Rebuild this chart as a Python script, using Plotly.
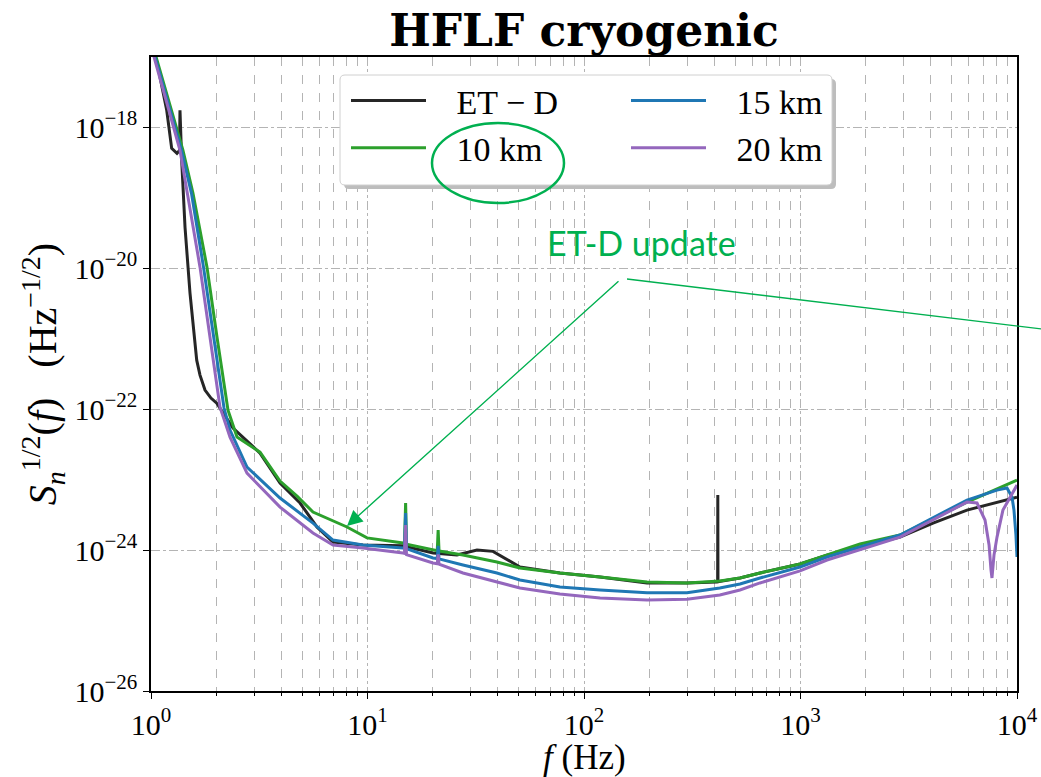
import plotly.graph_objects as go

# ---------------------------------------------------------------
# Amplitude spectral densities S_n^{1/2}(f)  [Hz^-1/2]
# ---------------------------------------------------------------
etd_f = [1.0, 1.066, 1.182, 1.246, 1.318, 1.354, 1.361, 1.386, 1.436, 1.514,
         1.626, 1.684, 1.776, 1.892, 2.012, 2.15, 2.392, 3.188, 3.944, 4.88,
         5.84, 6.93, 9.53, 14.58, 20.07, 25.9, 32.05, 38.0, 50.6, 77.4,
         118.6, 195.5, 299.0, 411.0, 414.3, 415.0, 415.7, 525.5, 650.0, 995.0,
         1326.0, 2882.0, 4093.0, 5875.0, 10000.0]
etd_asd = [1.61e-17, 8.38e-18, 1.75e-18, 5.05e-19, 4.29e-19, 4.73e-19, 1.75e-18, 3.41e-19, 3.83e-20, 4.44e-21,
           4.97e-22, 3.05e-22, 1.87e-22, 1.44e-22, 1.22e-22, 8.8e-23, 5.4e-23, 2.38e-23, 8.95e-24, 4.66e-24,
           2.13e-24, 1.3e-24, 1.18e-24, 1.15e-24, 9.1e-25, 8.5e-25, 1.0e-24, 9.6e-25, 5.75e-25, 4.73e-25,
           4.15e-25, 3.41e-25, 3.41e-25, 3.53e-25, 3.54e-25, 6.05e-24, 3.56e-25, 4.02e-25, 4.73e-25, 6.35e-25,
           8.5e-25, 1.53e-24, 2.42e-24, 3.7e-24, 5.66e-24]

km10_f = [1.0, 1.066, 1.405, 1.563, 1.814, 2.018, 2.268, 2.496, 3.188, 3.944,
          4.725, 5.60, 8.04, 9.95, 14.58, 14.82, 15.0, 15.14, 20.07, 21.0,
          21.2, 21.4, 27.6, 39.6, 50.6, 77.4, 118.6, 195.5, 299.0, 424.0,
          525.5, 650.0, 995.0, 1326.0, 1884.0, 2882.0, 5875.0, 10000.0]
km10_asd = [1.78e-17, 8.95e-18, 4.73e-19, 1.16e-19, 1.04e-20, 1.05e-21, 9.7e-23, 4.02e-23, 2.46e-23, 9.55e-24,
            5.85e-24, 3.47e-24, 2.13e-24, 1.49e-24, 1.26e-24, 1.22e-24, 4.66e-24, 1.21e-24, 1.0e-24, 9.8e-25,
            1.93e-24, 9.7e-25, 8.5e-25, 6.78e-25, 5.57e-25, 4.73e-25, 4.15e-25, 3.53e-25, 3.41e-25, 3.65e-25,
            4.02e-25, 4.73e-25, 6.35e-25, 8.5e-25, 1.22e-24, 1.64e-24, 4.81e-24, 9.86e-24]

km15_f = [1.0, 1.055, 1.383, 1.538, 1.748, 1.944, 2.174, 2.317, 2.776, 3.944,
          5.60, 6.93, 9.53, 14.58, 14.82, 15.0, 15.14, 20.07, 21.0, 21.2,
          21.4, 27.6, 39.6, 50.6, 77.4, 118.6, 195.5, 299.0, 424.0, 525.5,
          650.0, 995.0, 1326.0, 2882.0, 5875.0, 8085.0, 8990.0, 9484.0, 9683.0, 9888.0,
          10000.0]
km15_asd = [1.5e-17, 8.95e-18, 4.73e-19, 1.16e-19, 1.04e-20, 1.05e-21, 1.04e-22, 5.06e-23, 1.51e-23, 5.48e-24,
            2.42e-24, 1.39e-24, 1.18e-24, 1.07e-24, 1.06e-24, 3.36e-24, 1.05e-24, 7.73e-25, 7.6e-25, 1.15e-24,
            7.5e-25, 6.15e-25, 4.73e-25, 3.77e-25, 3.0e-25, 2.72e-25, 2.48e-25, 2.48e-25, 2.9e-25, 3.3e-25,
            4.02e-25, 5.75e-25, 7.98e-25, 1.64e-24, 5.14e-24, 7.11e-24, 7.6e-24, 5.66e-24, 3.7e-24, 1.64e-24,
            7.98e-25]

km20_f = [1.0, 1.043, 1.361, 1.474, 1.684, 1.873, 2.083, 2.317, 2.776, 3.944,
          5.60, 6.93, 9.53, 14.58, 14.82, 15.0, 15.14, 20.07, 21.0, 21.2,
          21.4, 27.6, 39.6, 50.6, 77.4, 118.6, 195.5, 299.0, 424.0, 525.5,
          650.0, 995.0, 1326.0, 2882.0, 5875.0, 6536.0, 7116.0, 7430.0, 7586.0, 7664.0,
          7830.0, 8085.0, 8610.0, 10000.0]
km20_asd = [1.46e-17, 8.95e-18, 4.73e-19, 1.16e-19, 1.04e-20, 1.05e-21, 1.07e-22, 4.02e-23, 1.24e-23, 4.08e-24,
            1.75e-24, 1.18e-24, 1.07e-24, 9.1e-25, 9.0e-25, 2.27e-24, 8.6e-25, 6.56e-25, 6.4e-25, 8.7e-25,
            6.3e-25, 4.73e-25, 3.53e-25, 2.9e-25, 2.38e-25, 2.09e-25, 1.96e-25, 2.0e-25, 2.31e-25, 2.72e-25,
            3.42e-25, 5.06e-25, 7.24e-25, 1.53e-24, 4.81e-24, 4.66e-24, 2.67e-24, 1.18e-24, 5.22e-25, 4.02e-25,
            8.5e-25, 1.53e-24, 3.7e-24, 8.38e-24]

series_names = ["ET − D", "10 km", "15 km", "20 km"]
series_colors = ["#262626", "#2ca02c", "#1f77b4", "#9467bd"]
series_legend = ["legend", "legend", "legend2", "legend2"]

x_tick_vals = [1, 10, 100, 1000, 10000]
x_tick_text = ["10<sup>0</sup>", "10<sup>1</sup>", "10<sup>2</sup>", "10<sup>3</sup>", "10<sup>4</sup>"]
y_tick_vals = [1e-26, 1e-24, 1e-22, 1e-20, 1e-18]
y_tick_text = ["10<sup>−26</sup>", "10<sup>−24</sup>", "10<sup>−22</sup>", "10<sup>−20</sup>", "10<sup>−18</sup>"]

SERIF = "Liberation Serif"
NOTE_GREEN = "#00b050"
NBSP = "\u00a0"

# figure / plot-area geometry in pixels
W, H = 1041, 777
L, R, T, B = 151, 24, 57, 86
PW, PH = W - L - R, H - T - B


def px_x(p):
    return (p - L) / PW


def px_y(p):
    return (H - B - p) / PH


fig = go.Figure()
for f, asd, name, col, leg in zip(
    [etd_f, km10_f, km15_f, km20_f],
    [etd_asd, km10_asd, km15_asd, km20_asd],
    series_names, series_colors, series_legend,
):
    fig.add_trace(go.Scatter(
        x=f, y=asd, mode="lines", name=NBSP * 3 + name, legend=leg,
        line=dict(color=col, width=3),
    ))

grid_col = "#b4b4b4"
minor_x = [m * 10 ** d for d in range(4) for m in range(2, 10)]

fig.update_xaxes(
    type="log", range=[0, 4], automargin=False,
    tickmode="array", tickvals=x_tick_vals, ticktext=x_tick_text,
    ticks="outside", ticklen=6, tickcolor="black",
    showline=True, mirror=True, linecolor="black", linewidth=1.5,
    showgrid=True, gridcolor=grid_col, gridwidth=1, griddash="dashdot",
    minor=dict(tickvals=minor_x, ticks="outside", ticklen=3, tickcolor="black",
               showgrid=True, gridcolor=grid_col, gridwidth=1, griddash="dash"),
    tickfont=dict(family=SERIF, size=30, color="black"),
    zeroline=False,
)
fig.update_yaxes(
    type="log", range=[-26, -17], automargin=False,
    tickmode="array", tickvals=y_tick_vals, ticktext=y_tick_text,
    ticks="outside", ticklen=6, tickcolor="black",
    showline=True, mirror=True, linecolor="black", linewidth=1.5,
    showgrid=True, gridcolor=grid_col, gridwidth=1, griddash="dashdot",
    tickfont=dict(family=SERIF, size=30, color="black"),
    title=dict(text="<i>S</i><sub><i>n</i></sub><sup>1/2</sup>(<i>f</i>)" + NBSP * 3
               + "(Hz<sup>−1/2</sup>)",
               font=dict(family=SERIF, size=40, color="black"), standoff=5),
    zeroline=False,
)


# legend frame with drop shadow (rounded rectangle)
def rounded_rect(x0, y0, x1, y1, r):
    ax0, ax1 = px_x(x0), px_x(x1)
    ay0, ay1 = px_y(y0), px_y(y1)
    rx, ry = r / PW, r / PH
    return (f"M{ax0 + rx},{ay0} L{ax1 - rx},{ay0} Q{ax1},{ay0} {ax1},{ay0 - ry} "
            f"L{ax1},{ay1 + ry} Q{ax1},{ay1} {ax1 - rx},{ay1} "
            f"L{ax0 + rx},{ay1} Q{ax0},{ay1} {ax0},{ay1 + ry} "
            f"L{ax0},{ay0 - ry} Q{ax0},{ay0} {ax0 + rx},{ay0} Z")


shapes = [
    dict(type="path", xref="paper", yref="paper", layer="above",
         path=rounded_rect(344, 79, 836, 189, 5), fillcolor="#bdbdbd", line=dict(width=0)),
    dict(type="path", xref="paper", yref="paper", layer="above",
         path=rounded_rect(340, 75, 832, 185, 5), fillcolor="white",
         line=dict(color="#d0d0d0", width=1)),
    # highlight ring around the 10 km entry
    dict(type="circle", xref="paper", yref="paper", layer="above",
         x0=px_x(432), x1=px_x(564), y0=px_y(203), y1=px_y(123),
         line=dict(color=NOTE_GREEN, width=2.5)),
    # pointer from the note towards the right
    dict(type="line", xref="paper", yref="paper", layer="above",
         x0=px_x(627), y0=px_y(279), x1=px_x(1075), y1=px_y(333),
         line=dict(color=NOTE_GREEN, width=1.4)),
]

annotations = [
    # x-axis title
    dict(text="<i>f</i>" + NBSP + "(Hz)", xref="paper", yref="paper",
         x=0.5, y=px_y(757), xanchor="center", yanchor="middle", showarrow=False,
         font=dict(family=SERIF, size=35, color="black")),
    dict(text="ET-D update", xref="paper", yref="paper",
         x=px_x(641), y=px_y(243), xanchor="center", yanchor="middle", showarrow=False,
         font=dict(family="Lato", size=34, color=NOTE_GREEN)),
    dict(text="", xref="paper", yref="paper", x=px_x(347), y=px_y(526),
         showarrow=True, ax=273, ay=-246, arrowhead=2, arrowsize=2.2, arrowwidth=1.4,
         arrowcolor=NOTE_GREEN),
]

legend_style = dict(orientation="v", xanchor="left", yanchor="top",
                    bgcolor="rgba(0,0,0,0)", borderwidth=0, itemwidth=75,
                    traceorder="normal", tracegroupgap=0,
                    font=dict(family=SERIF, size=34, color="black"))

fig.update_layout(
    width=W, height=H,
    margin=dict(l=L, r=R, t=T, b=B),
    paper_bgcolor="white", plot_bgcolor="white",
    title=dict(text="<b>HFLF cryogenic</b>", x=((L + W - R) / 2) / W,
               xanchor="center", y=1 - 31 / H, yanchor="middle",
               font=dict(family="DejaVu Serif", size=44, color="black")),
    legend=dict(x=px_x(346), y=px_y(72), **legend_style),
    legend2=dict(x=px_x(626), y=px_y(72), **legend_style),
    shapes=shapes,
    annotations=annotations,
    showlegend=True,
)

fig.write_html("out.html")
